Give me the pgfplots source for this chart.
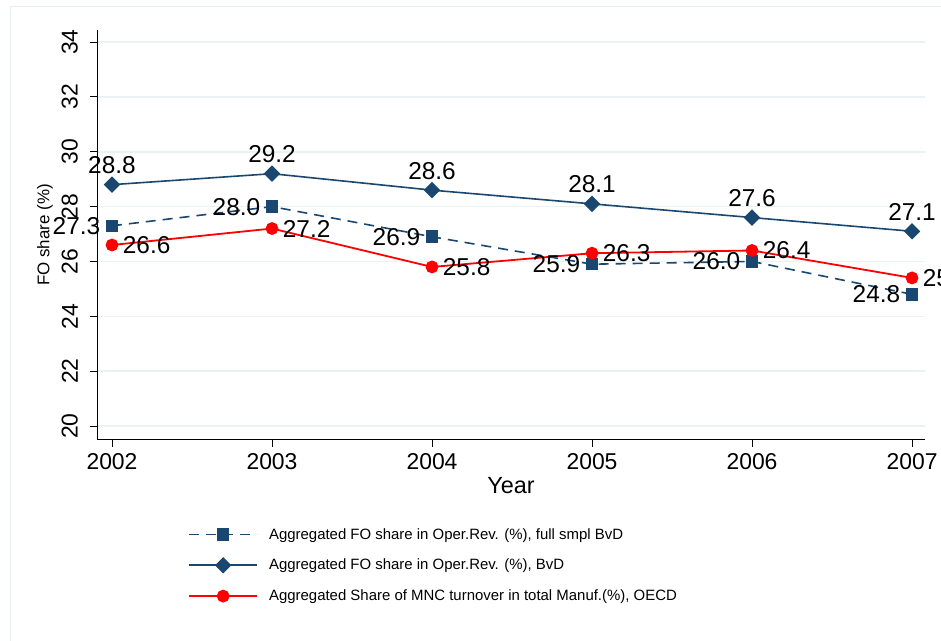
\documentclass[border=0pt]{standalone}
\usepackage{pgfplots}
\pgfplotsset{compat=1.18}
\usepackage{fontspec}
\setmainfont{Liberation Sans}
\definecolor{stnavy}{RGB}{26,71,111}
\definecolor{gridc}{RGB}{234,242,244}
\definecolor{framec}{RGB}{232,238,240}
\pgfplotsset{
  lbl/.style={
    nodes near coords={\pgfmathprintnumber[fixed,fixed zerofill,precision=1,assume math mode=true]{\pgfplotspointmeta}},
    every node near coord/.append style={font=\fontsize{24.5}{28}\selectfont, inner sep=0pt, text=black, #1}
  }
}
\begin{document}
\begin{tikzpicture}[x=1bp,y=1bp]
\path[use as bounding box] (0,0) rectangle (941,641);
\draw[framec, line width=1bp] (10,-5) -- (10,634) -- (960,634);
\begin{axis}[
  at={(97bp,201bp)}, anchor=south west, scale only axis,
  width=828bp, height=410bp,
  xmin=2001.90625, xmax=2007.08125, ymin=19.49, ymax=34.44,
  axis x line*=bottom, axis y line*=left,
  axis line style={black, line width=1bp},
  xtick={2002,2003,2004,2005,2006,2007},
  ytick={20,22,24,26,28,30,32,34},
  tick align=outside, major tick length=7bp,
  tick style={black, line width=1bp},
  ymajorgrids, grid style={gridc, line width=1.6bp},
  /pgf/number format/1000 sep={},
  /pgf/number format/assume math mode=true,
  tick label style={font=\fontsize{23}{27}\selectfont},
  xticklabel style={inner sep=0pt, anchor=north},
  xticklabel shift=6bp,
  yticklabel style={rotate=90, anchor=south, inner sep=0pt},
  yticklabel shift=12bp,
  xlabel={Year},
  xlabel style={font=\fontsize{23.5}{27}\selectfont, at={(axis description cs:0.5,0)}, anchor=north, inner sep=0pt, yshift=-37bp},
  ylabel={FO share (\%)},
  ylabel style={font=\fontsize{17}{20}\selectfont, at={(axis description cs:0,0.5)}, anchor=center, inner sep=0pt, yshift=52bp},
  clip=false,
  legend style={at={(axis description cs:0.110,-0.210)}, anchor=north west, draw=none, fill=none,
    inner sep=0pt, font=\fontsize{15}{18}\selectfont, row sep=14.5bp,
    nodes={inner sep=2bp}},
  legend cell align=left,
  legend image code/.code={\draw[mark repeat=2,mark phase=2,#1] plot coordinates {(0bp,0bp) (34bp,0bp) (68bp,0bp)};},
  /tikz/every even column/.append style={column sep=0bp},
  /tikz/every odd column/.append style={column sep=9bp},
]
\addplot[stnavy, line width=1.6bp, dash pattern=on 10bp off 7bp, mark=square*, mark size=5.5bp, mark options={solid}, lbl={anchor=east, xshift=-11bp}]
  coordinates {(2002,27.3) (2003,28.0) (2004,26.9) (2005,25.9) (2006,26.0) (2007,24.8)};
\addlegendentry{Aggregated FO share in Oper.Rev. (\%), full smpl BvD}
\addplot[stnavy, line width=1.6bp, mark=square*, mark size=5bp, mark options={solid, rotate=45}, lbl={anchor=south, yshift=10bp}]
  coordinates {(2002,28.8) (2003,29.2) (2004,28.6) (2005,28.1) (2006,27.6) (2007,27.1)};
\addlegendentry{Aggregated FO share in Oper.Rev. (\%), BvD}
\addplot[red, line width=1.8bp, mark=*, mark size=5.5bp, mark options={solid}, lbl={anchor=west, xshift=10bp}]
  coordinates {(2002,26.6) (2003,27.2) (2004,25.8) (2005,26.3) (2006,26.4) (2007,25.4)};
\addlegendentry{Aggregated Share of MNC turnover in total Manuf.(\%), OECD}
\end{axis}
\end{tikzpicture}
\end{document}
